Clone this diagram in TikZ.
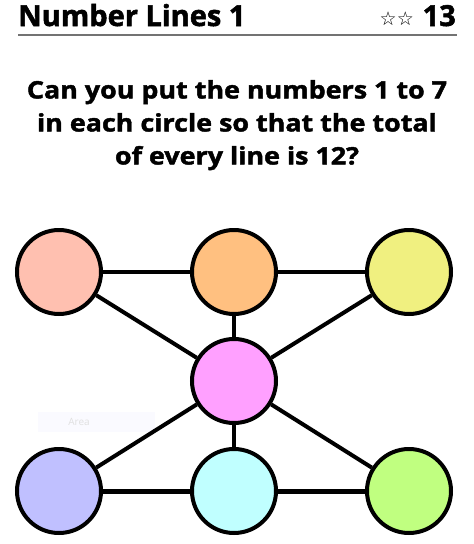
\documentclass[tikz,border=0pt]{standalone}
\usepackage{fontspec}
\setmainfont{Open Sans}[BoldFeatures={FakeBold=1.8}]
\newfontfamily\qfont{Open Sans}[BoldFeatures={FakeBold=1.8,FakeStretch=1.12}]
\newfontfamily\symfont{DejaVu Sans}
\begin{document}
\begin{tikzpicture}[x=1pt,y=-1pt,
  ball/.style={circle,draw=black,line width=4pt,minimum size=84pt,inner sep=0pt},
  link/.style={line width=4pt,black},
  hdr/.style={font=\fontsize{29}{30}\selectfont\bfseries,inner sep=0pt},
  qst/.style={font=\qfont\fontsize{24}{33}\selectfont\bfseries,inner sep=0pt,align=center}]
\useasboundingbox[fill=white] (0,0) rectangle (474,544);
% header
\node[hdr,anchor=base west] (title) at (18,26) {Number Lines 1};
\node[hdr,anchor=base east] (num) at (456,26) {13};
\node[inner sep=0pt,anchor=base east,font=\symfont\fontsize{19}{19}\selectfont] (stars) at (414,25) {☆☆};
\coordinate (rl) at (18,35);
\coordinate (rr) at (457,35);
\draw[line width=2pt,black!55] (rl) -- (rr);
% question
\node[qst,anchor=north] (q) at (237,80) {Can you put the numbers 1 to 7\\in each circle so that the total\\of every line is 12?};
% faint area label
\node[fill=blue!2,draw=none,minimum width=117pt,minimum height=20pt,inner sep=0pt,anchor=north west] (area) at (38,412) {};
\node[text=black!12,font=\fontsize{10}{10}\selectfont,inner sep=0pt] (areat) at (79,422) {Area};
% circles
\node[ball,fill={rgb,255:red,255;green,192;blue,176}] (tl) at (59,272) {};
\node[ball,fill={rgb,255:red,255;green,192;blue,128}] (tm) at (234,272) {};
\node[ball,fill={rgb,255:red,240;green,240;blue,128}] (tr) at (409,272) {};
\node[ball,fill={rgb,255:red,255;green,160;blue,255}] (m) at (234,381) {};
\node[ball,fill={rgb,255:red,192;green,192;blue,255}] (bl) at (59,491) {};
\node[ball,fill={rgb,255:red,192;green,255;blue,255}] (bm) at (234,491) {};
\node[ball,fill={rgb,255:red,192;green,255;blue,128}] (br) at (409,491) {};
% connectors
\draw[link] (tl) -- (tm);
\draw[link] (tm) -- (tr);
\draw[link] (tl) -- (m);
\draw[link] (tr) -- (m);
\draw[link] (tm) -- (m);
\draw[link] (m) -- (bm);
\draw[link] (m) -- (bl);
\draw[link] (m) -- (br);
\draw[link,line width=5pt] (bl) -- (bm);
\draw[link,line width=5pt] (bm) -- (br);
\end{tikzpicture}
\end{document}
